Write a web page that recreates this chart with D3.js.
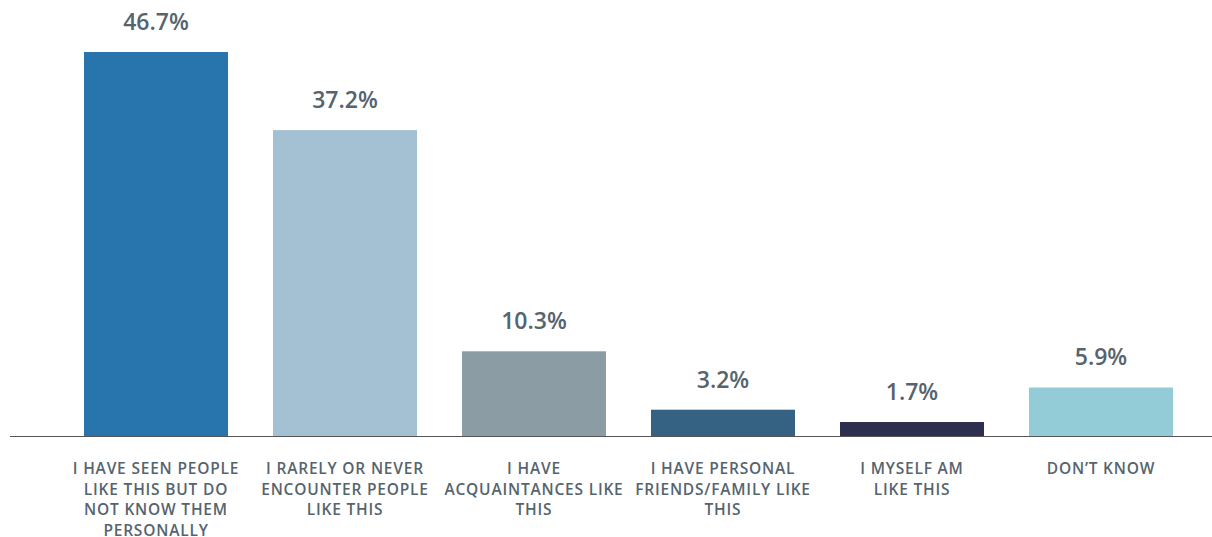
<!DOCTYPE html>
<html><head><meta charset="utf-8">
<script src="https://cdn.jsdelivr.net/npm/d3@7"></script>
<style>
html,body{margin:0;padding:0;background:#fff;}
svg{display:block;font-family:"Open Sans",sans-serif;}
</style></head>
<body><svg id="chart" width="1212" height="537"></svg>
<script>
const categories = [
  "I HAVE SEEN PEOPLE LIKE THIS BUT DO NOT KNOW THEM PERSONALLY",
  "I RARELY OR NEVER ENCOUNTER PEOPLE LIKE THIS",
  "I HAVE ACQUAINTANCES LIKE THIS",
  "I HAVE PERSONAL FRIENDS/FAMILY LIKE THIS",
  "I MYSELF AM LIKE THIS",
  "DON\u2019T KNOW"
];
const categoryLines = [
  ["I HAVE SEEN PEOPLE", "LIKE THIS BUT DO", "NOT KNOW THEM", "PERSONALLY"],
  ["I RARELY OR NEVER", "ENCOUNTER PEOPLE", "LIKE THIS"],
  ["I HAVE", "ACQUAINTANCES LIKE", "THIS"],
  ["I HAVE PERSONAL", "FRIENDS/FAMILY LIKE", "THIS"],
  ["I MYSELF AM", "LIKE THIS"],
  ["DON\u2019T KNOW"]
];
const values = [46.7, 37.2, 10.3, 3.2, 1.7, 5.9];
const colors = ["#2874ad", "#a3c1d3", "#8c9ca4", "#356283", "#2e2f4f", "#93cbd6"];

const svg = d3.select("#chart");
const baseY = 436;
const x = d3.scaleBand().domain(categories).range([61.5, 1195.5]).paddingInner(0.238).paddingOuter(0.119);
const y = d3.scaleLinear().domain([0, 46.7]).range([baseY, 52]);
const textColor = "#56646e";

svg.selectAll("rect.bar").data(categories).join("rect")
  .attr("class","bar")
  .attr("x", d => x(d))
  .attr("width", x.bandwidth())
  .attr("y", (d,i) => y(values[i]))
  .attr("height", (d,i) => baseY - y(values[i]))
  .attr("fill", (d,i) => colors[i]);

svg.append("line").attr("x1", 10).attr("x2", 1212).attr("y1", baseY + 0.5).attr("y2", baseY + 0.5)
  .attr("stroke", "#555").attr("stroke-width", 1.2);

svg.selectAll("text.val").data(categories).join("text")
  .attr("class","val")
  .attr("x", d => x(d) + x.bandwidth()/2)
  .attr("y", (d,i) => y(values[i]) - 22)
  .attr("text-anchor","middle")
  .attr("font-size", 23).attr("font-weight", 600)
  .attr("fill", textColor)
  .text((d,i) => values[i].toFixed(1) + "%");

categories.forEach((c, i) => {
  const cx = x(c) + x.bandwidth()/2;
  const t = svg.append("text")
    .attr("y", 474)
    .attr("text-anchor","middle")
    .attr("font-size", 15.5).attr("font-weight", 600)
    .attr("letter-spacing", 0.8)
    .attr("fill", textColor);
  categoryLines[i].forEach((ln, k) => {
    t.append("tspan").attr("x", cx).attr("dy", k === 0 ? 0 : 20.7).text(ln);
  });
});
</script></body></html>
